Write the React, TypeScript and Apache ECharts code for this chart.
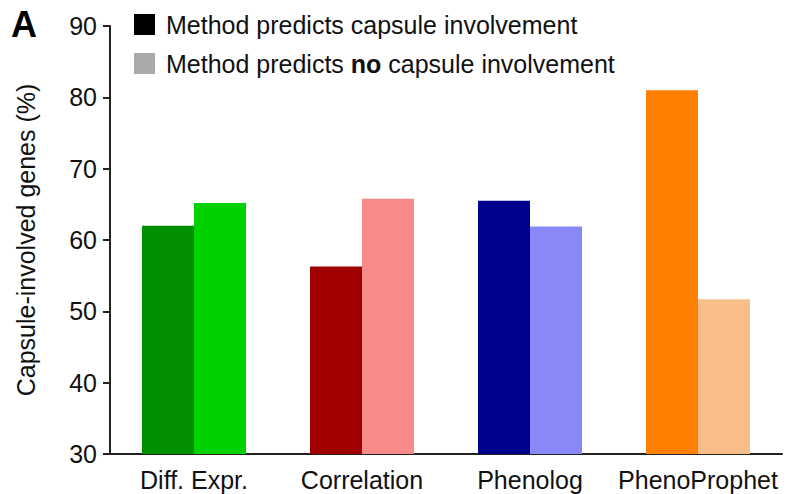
import React, { useEffect, useRef } from "react";
import * as echarts from "echarts";

const categories = ["Diff. Expr.", "Correlation", "Phenolog", "PhenoProphet"];
const capsuleValues = [62.0, 56.3, 65.5, 81.0];
const noCapsuleValues = [65.2, 65.8, 61.9, 51.7];
const darkColors = ["#008F00", "#A00000", "#00008F", "#FF8000"];
const lightColors = ["#00D200", "#F88A8A", "#8888F8", "#F8BE8A"];
const yTicks = [30, 40, 50, 60, 70, 80, 90];
const legendNames = ["Method predicts capsule involvement", "Method predicts no capsule involvement"];

const FONT = "Liberation Sans, Arial, sans-serif";

export default function App() {
  const ref = useRef<HTMLDivElement>(null);
  useEffect(() => {
    const chart = echarts.init(ref.current!, null, { renderer: "svg" });
    const legendBase = {
      orient: "vertical",
      left: 134,
      padding: 0,
      itemWidth: 21,
      itemHeight: 21,
      itemGap: 12,
      icon: "rect",
      textStyle: {
        fontSize: 25,
        color: "#111",
        fontFamily: FONT,
        padding: [0, 0, 0, 6],
        rich: { b: { fontSize: 25, fontWeight: "bold", color: "#111", fontFamily: FONT } },
      },
      formatter: (name: string) =>
        name === legendNames[1] ? "Method predicts {b|no} capsule involvement" : name,
    };
    chart.setOption({
      animation: false,
      backgroundColor: "#ffffff",
      textStyle: { fontFamily: FONT },
      grid: { left: 110, right: 4, top: 26, bottom: 40 },
      graphic: [
        {
          type: "text",
          left: 11,
          top: 6,
          style: { text: "A", font: "bold 36px " + FONT, fill: "#000" },
        },
      ],
      legend: [
        { ...legendBase, top: 12, data: [legendNames[0]] },
        { ...legendBase, top: 51, data: [legendNames[1]] },
      ],
      xAxis: {
        type: "category",
        data: categories,
        axisLine: { lineStyle: { color: "#222", width: 2 } },
        axisTick: { show: false },
        axisLabel: { interval: 0, fontSize: 25, color: "#111", margin: 13, fontFamily: FONT },
      },
      yAxis: {
        type: "value",
        min: 30,
        max: 90,
        interval: 10,
        name: "Capsule-involved genes (%)",
        nameLocation: "middle",
        nameGap: 72,
        nameTextStyle: { fontSize: 25, color: "#111", fontFamily: FONT },
        splitLine: { show: false },
        axisLine: { show: true, lineStyle: { color: "#222", width: 2 } },
        axisTick: { show: true, length: 7, lineStyle: { color: "#222", width: 2 } },
        axisLabel: {
          fontSize: 25,
          color: "#111",
          margin: 13,
          fontFamily: FONT,
          formatter: (v: number) => (yTicks.includes(v) ? String(v) : ""),
        },
      },
      series: [
        {
          name: legendNames[0],
          type: "bar",
          barWidth: 52,
          barGap: "0%",
          itemStyle: { color: "#000000" },
          data: capsuleValues.map((v, i) => ({ value: v, itemStyle: { color: darkColors[i] } })),
        },
        {
          name: legendNames[1],
          type: "bar",
          barWidth: 52,
          barGap: "0%",
          itemStyle: { color: "#AAAAAA" },
          data: noCapsuleValues.map((v, i) => ({ value: v, itemStyle: { color: lightColors[i] } })),
        },
      ],
    });
    return () => chart.dispose();
  }, []);
  return <div ref={ref} style={{ position: "absolute", left: 0, top: 0, width: 786, height: 494 }} />;
}
